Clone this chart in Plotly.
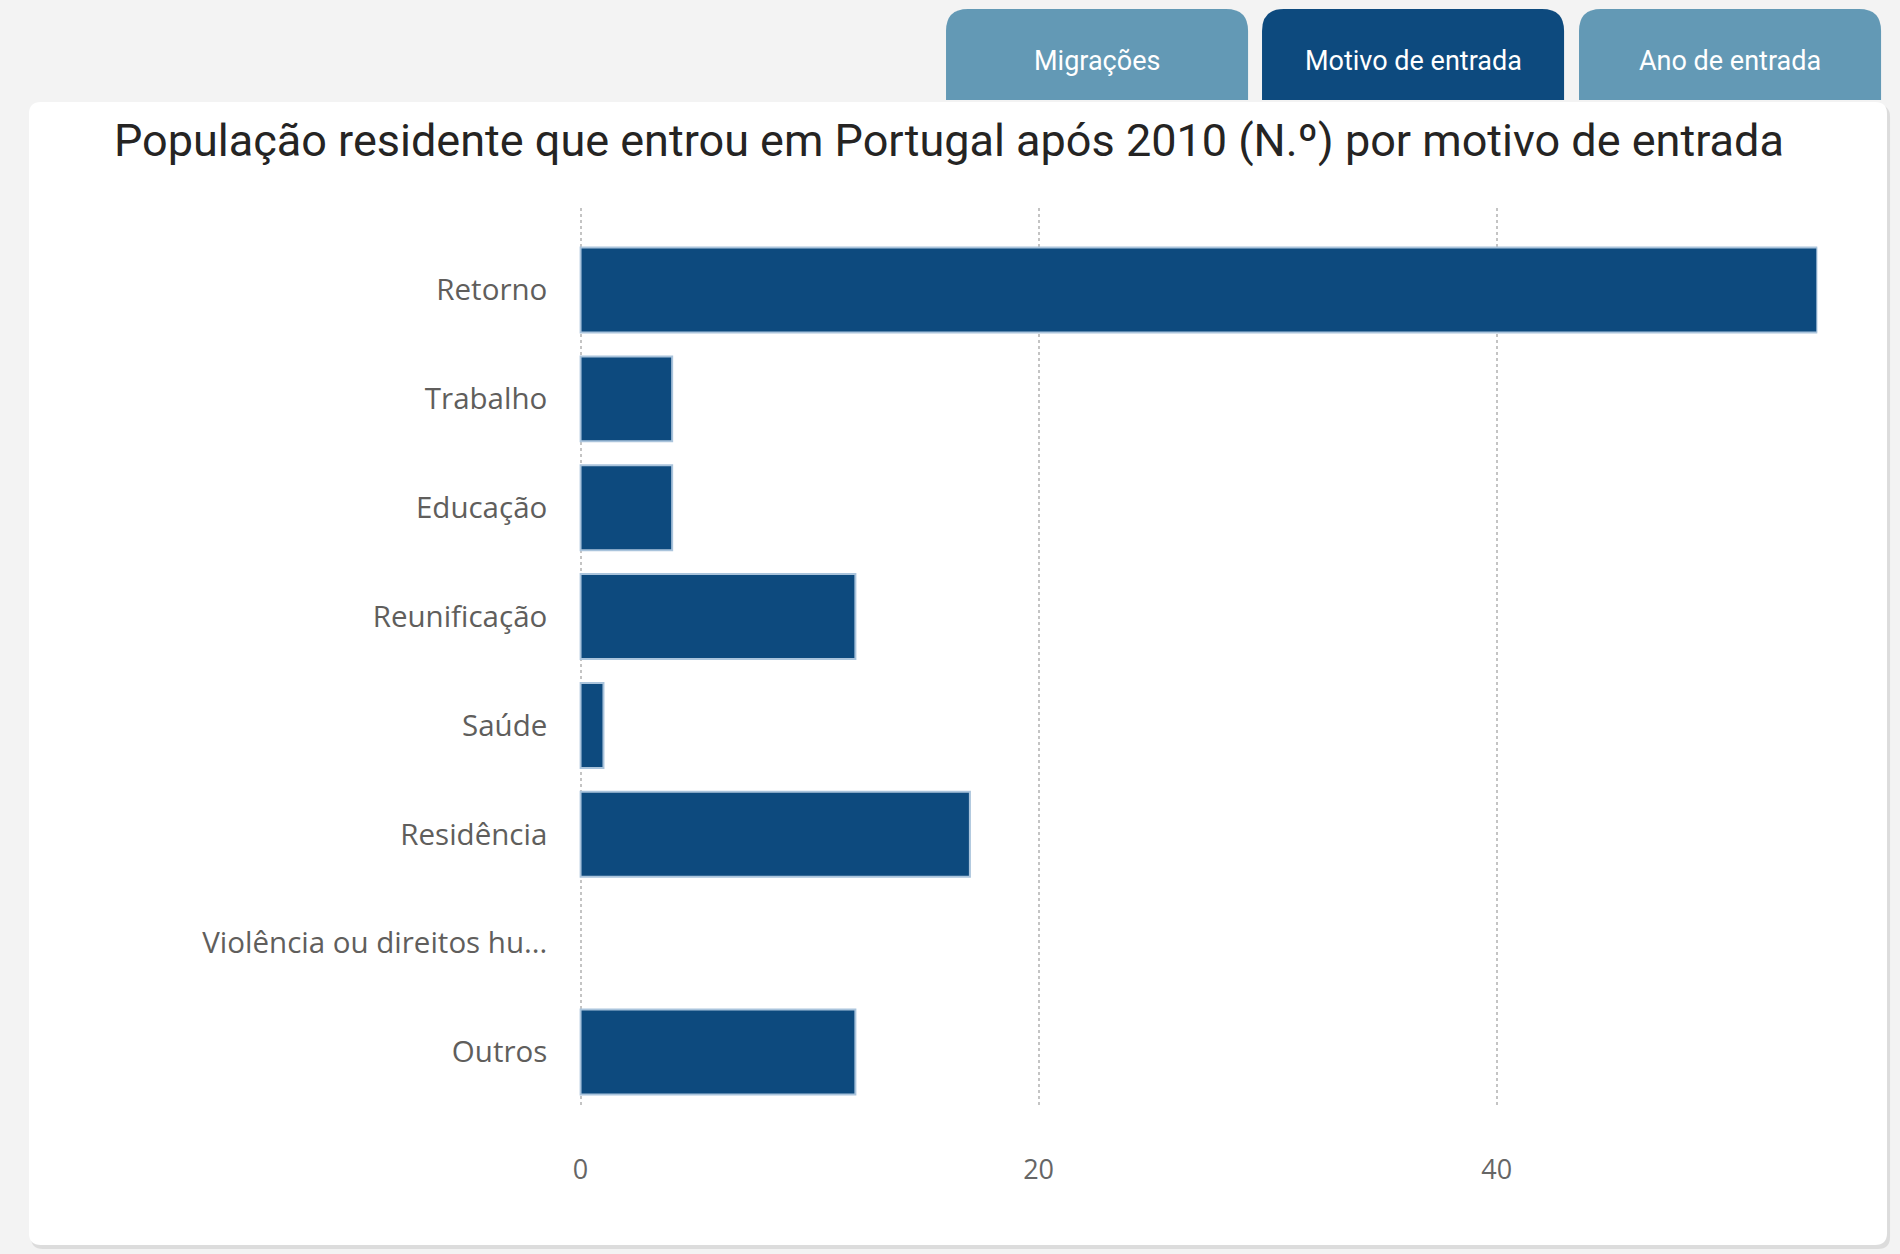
import plotly.graph_objects as go

W, H = 1900, 1254

categories = ["Retorno", "Trabalho", "Educação", "Reunificação", "Saúde",
              "Residência", "Violência ou direitos hu...", "Outros"]
values = [54, 4, 4, 12, 1, 17, 0, 12]
x_ticks = [0, 20, 40]
tab_labels = ["Migrações", "Motivo de entrada", "Ano de entrada"]
title_text = "População residente que entrou em Portugal após 2010 (N.º) por motivo de entrada"

BAR = "#0d4a7e"
TAB_LIGHT = "#6399b5"


def px(x):
    return x / W


def py(y):
    return 1 - y / H


def rounded_rect(x0, y0, x1, y1, r, top_only=False):
    # pixel coords, y downward; returns path in paper coords
    rx, ry = r / W, r / H
    X0, X1 = px(x0), px(x1)
    Y0, Y1 = py(y0), py(y1)  # Y0 top (larger), Y1 bottom
    if top_only:
        return (f"M {X0},{Y1} L {X0},{Y0-ry} Q {X0},{Y0} {X0+rx},{Y0} "
                f"L {X1-rx},{Y0} Q {X1},{Y0} {X1},{Y0-ry} L {X1},{Y1} Z")
    return (f"M {X0+rx},{Y1} L {X1-rx},{Y1} Q {X1},{Y1} {X1},{Y1+ry} "
            f"L {X1},{Y0-ry} Q {X1},{Y0} {X1-rx},{Y0} L {X0+rx},{Y0} "
            f"Q {X0},{Y0} {X0},{Y0-ry} L {X0},{Y1+ry} Q {X0},{Y1} {X0+rx},{Y1} Z")


fig = go.Figure(go.Bar(
    x=values, y=categories, orientation="h",
    marker=dict(color=BAR,
                line=dict(color="#aac4dc", width=[0 if v == 0 else 2 for v in values])),
    width=0.78, hoverinfo="x+y",
))

shapes = []
annotations = []
# tabs
tabs = [(943, 1246, TAB_LIGHT), (1260, 1563, BAR), (1578, 1881, TAB_LIGHT)]
for (x0, x1, col), lab in zip(tabs, tab_labels):
    shapes.append(dict(type="path", xref="paper", yref="paper",
                       path=rounded_rect(x0, 9, x1, 100, 22, top_only=True),
                       fillcolor=col, line=dict(width=0), layer="below"))
    annotations.append(dict(text=lab, x=px((x0 + x1) / 2), y=py(61), xref="paper", yref="paper",
                            showarrow=False, xanchor="center", yanchor="middle",
                            font=dict(family="Roboto", size=27, color="white")))
# card shadow and card
shapes.append(dict(type="path", xref="paper", yref="paper",
                   path=rounded_rect(25, 105, 1890, 1249, 12),
                   fillcolor="#dcdcdc", line=dict(width=0), layer="below"))
shapes.append(dict(type="path", xref="paper", yref="paper",
                   path=rounded_rect(23, 102, 1887, 1245, 12),
                   fillcolor="white", line=dict(width=0), layer="below"))

annotations.append(dict(text=title_text, x=px(946), y=py(141), xref="paper", yref="paper",
                        showarrow=False, xanchor="center", yanchor="middle",
                        font=dict(family="Roboto", size=45, color="#252423")))

fig.update_layout(
    width=W, height=H,
    margin=dict(l=0, r=0, t=0, b=0),
    paper_bgcolor="#f3f3f3",
    plot_bgcolor="rgba(0,0,0,0)",
    showlegend=False,
    shapes=shapes,
    annotations=annotations,
    xaxis=dict(
        domain=[px(575), px(1817)],
        range=[-0.06, 54],
        tickvals=x_ticks,
        ticktext=[str(v) for v in x_ticks],
        showgrid=True, gridcolor="#c4c4c4", gridwidth=1.5, griddash="dot",
        zeroline=False, showline=False,
        ticks="outside", ticklen=40, tickcolor="rgba(0,0,0,0)",
        tickfont=dict(family="Open Sans", size=27, color="#666666"),
    ),
    yaxis=dict(
        domain=[py(1106), py(208)],
        range=[7.496, -0.753],
        type="category",
        categoryorder="array", categoryarray=categories,
        showgrid=False, zeroline=False, showline=False,
        ticks="outside", ticklen=25, tickcolor="rgba(0,0,0,0)",
        tickfont=dict(family="Open Sans", size=29.5, color="#605e5c"),
    ),
)

fig.write_html("out.html",
               config={"displayModeBar": False},
               post_script="document.body.style.margin='0';document.body.style.background='#f3f3f3';")
